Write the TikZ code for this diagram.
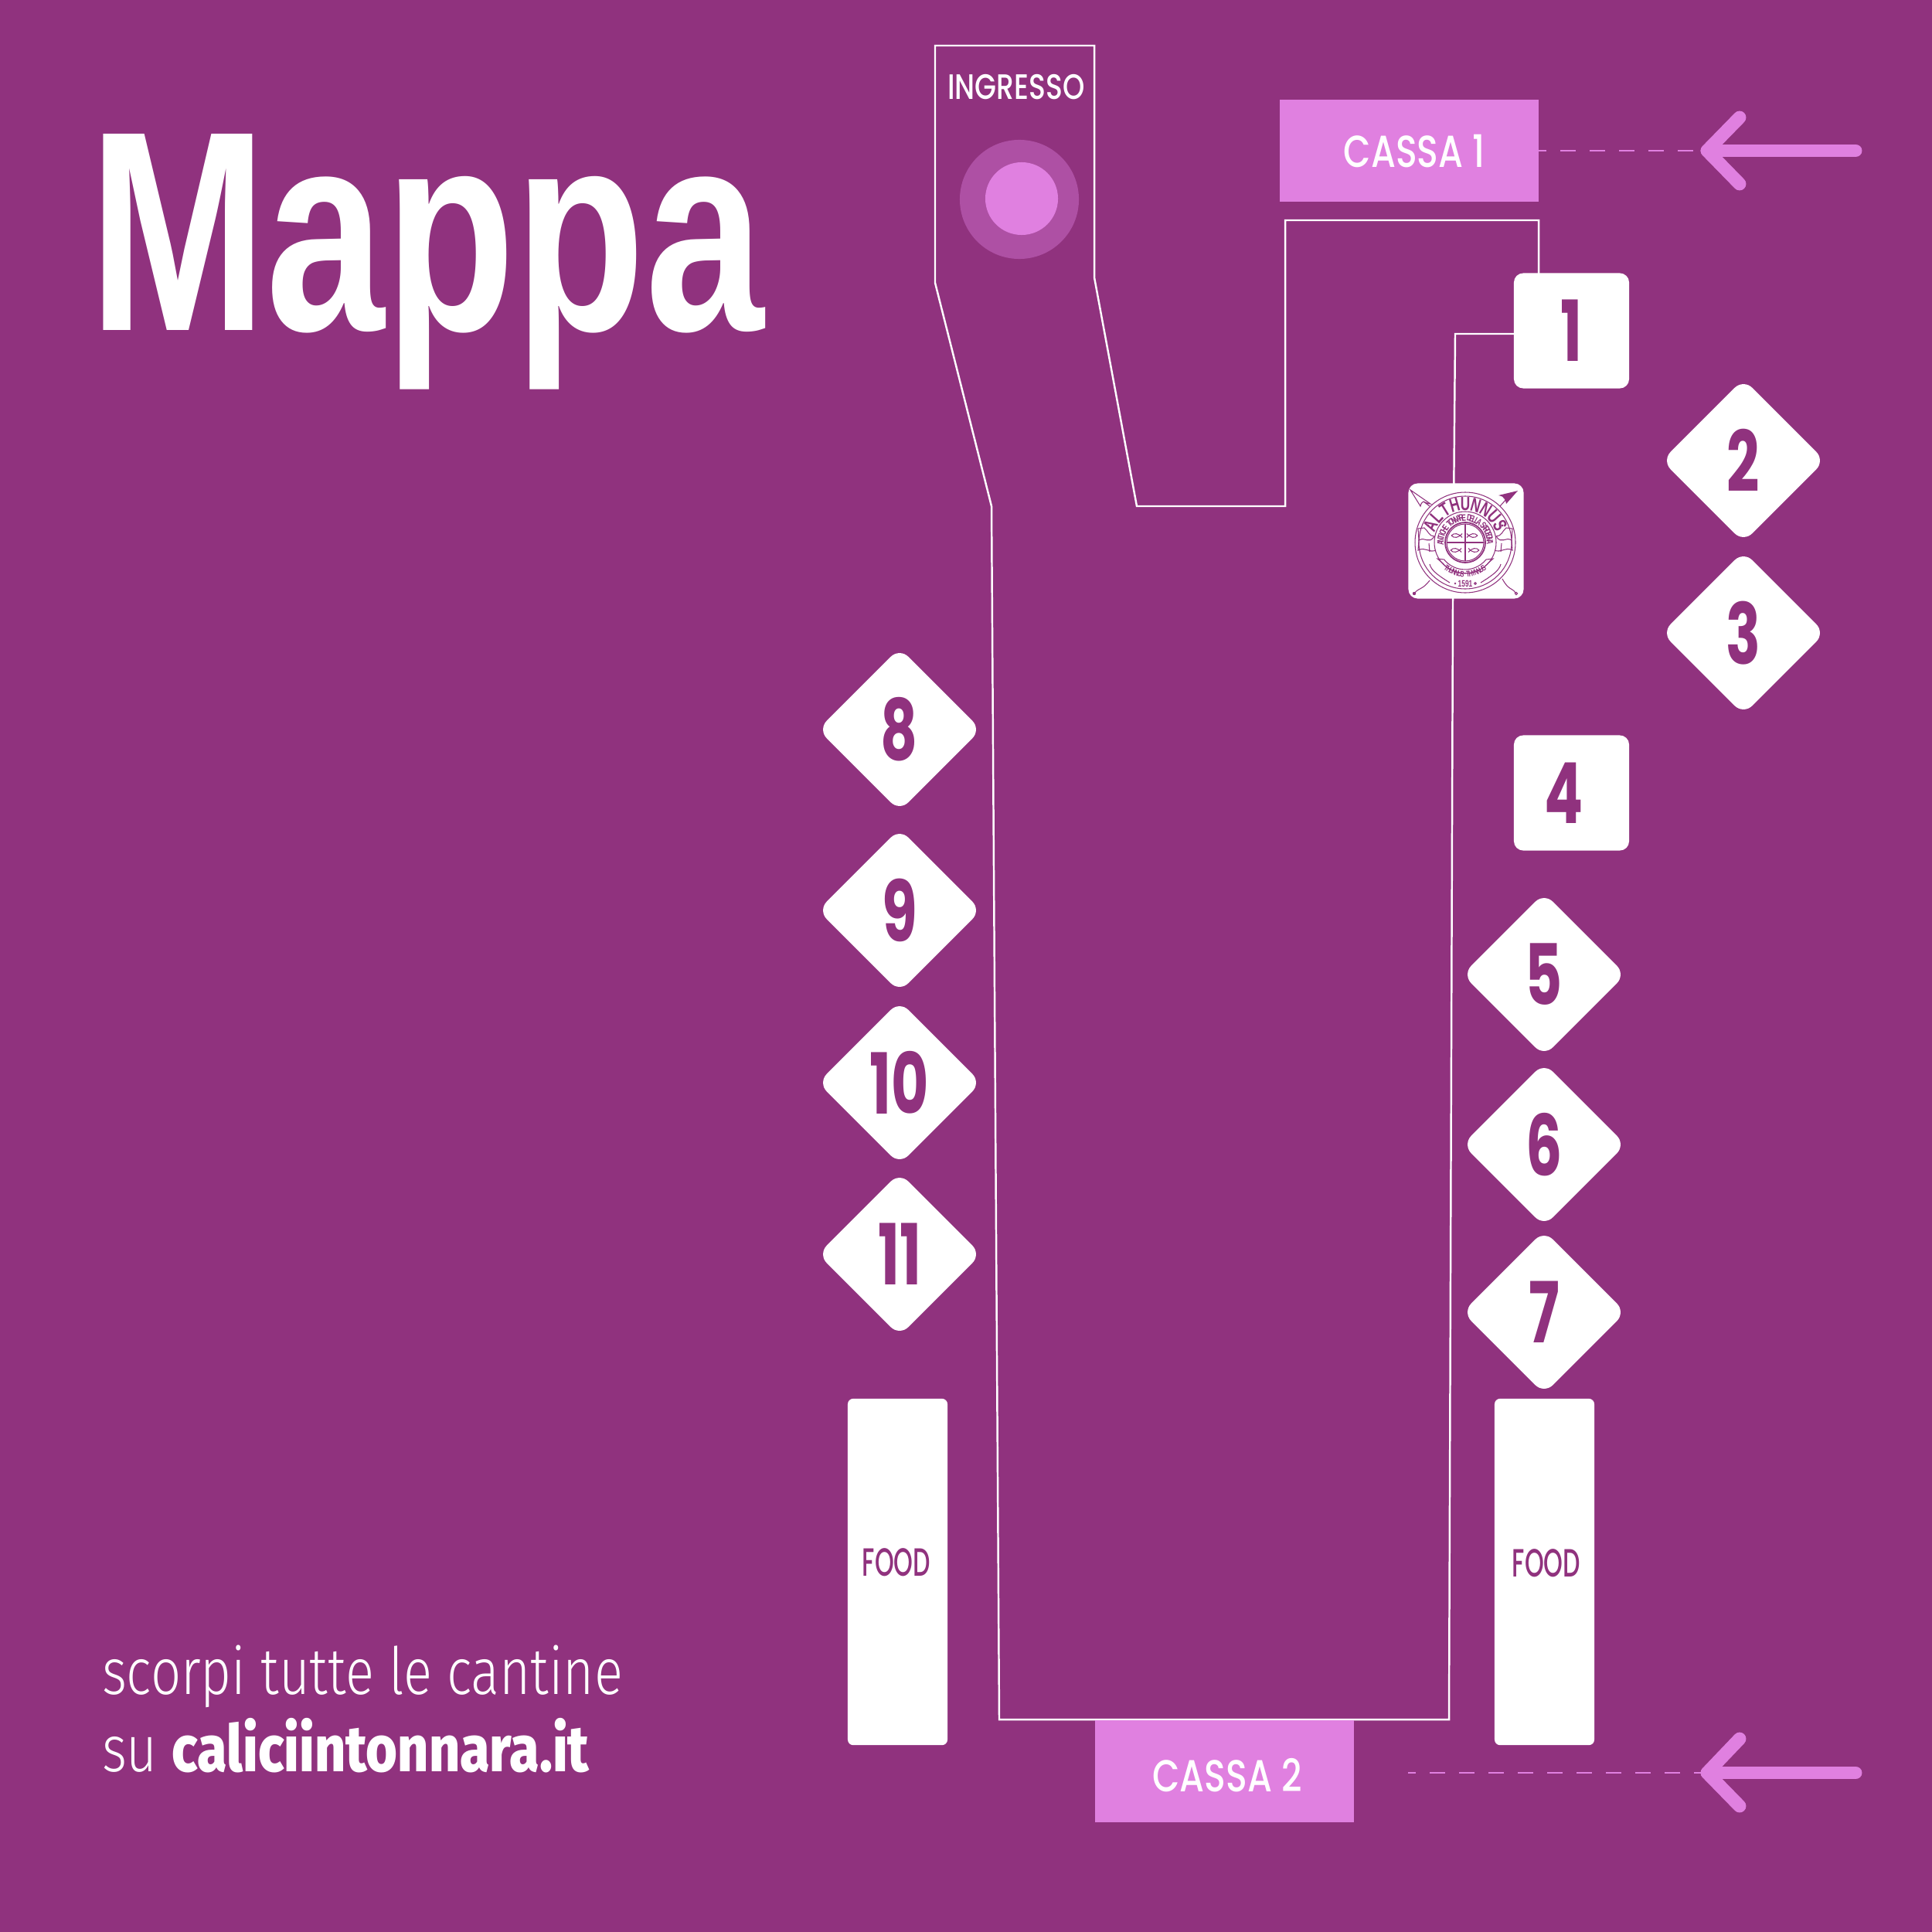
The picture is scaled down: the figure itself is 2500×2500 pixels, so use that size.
\documentclass[tikz,border=0pt]{standalone}
\usepackage{fontspec}
\usetikzlibrary{positioning,shapes.geometric}
\setmainfont{Liberation Sans}
\newfontfamily\titlefont[FakeStretch=0.747]{Liberation Sans Bold}
\newfontfamily\signfont[FakeStretch=0.79]{Poppins Medium}
\newfontfamily\foodfont[FakeStretch=0.62]{Poppins Medium}
\newfontfamily\digitfont[FakeStretch=0.68]{Poppins Bold}
\newfontfamily\lightfont[FakeStretch=0.815]{Fira Sans Light}
\newfontfamily\strongfont[FakeStretch=0.83]{Fira Sans ExtraBold}
\newfontfamily\sealfont[FakeStretch=0.7]{Liberation Sans Bold}
\definecolor{mapbg}{RGB}{144,50,126}
\definecolor{mappink}{RGB}{224,128,224}
\definecolor{mapring}{RGB}{174,80,164}
\tikzset{
  mappic/.style={x=0.01cm,y=-0.01cm,inner sep=0pt,outer sep=0pt}
  ,walkline/.style={draw=white,line width=0.7pt}
  ,standbox/.style={rectangle,fill=white,rounded corners=0.12cm,minimum size=1.49cm
    ,text=mapbg,font={\digitfont\fontsize{31}{31}\selectfont}}
  ,standdiamond/.style={diamond,aspect=1,fill=white,rounded corners=0.16cm,minimum size=2.11cm
    ,text=mapbg,font={\digitfont\fontsize{31}{31}\selectfont}}
  ,foodbox/.style={rectangle,fill=white,rounded corners=0.07cm
    ,minimum width=1.29cm,minimum height=4.48cm}
  ,foodname/.style={text=mapbg,font={\foodfont\fontsize{14.5}{14.5}\selectfont}}
  ,cassabox/.style={rectangle,fill=mappink,minimum width=3.35cm,minimum height=1.32cm}
  ,cassaname/.style={text=white,font={\signfont\fontsize{16.5}{16.5}\selectfont}}
  ,guide/.style={draw=mappink,line width=0.7pt,dash pattern=on 0.2cm off 0.18cm,dash phase=0.1cm}
  ,arrowbar/.style={draw=mappink,line width=4.8pt,line cap=round,line join=round}
  ,sealline/.style={draw=mapbg,line width=0.3pt}
  ,sealbig/.style={text=mapbg,font={\sealfont\fontsize{7}{7}\selectfont}}
  ,sealmid/.style={text=mapbg,font={\sealfont\fontsize{3.4}{3.4}\selectfont}}
  ,sealsmall/.style={text=mapbg,font={\sealfont\fontsize{3}{3}\selectfont}}
  ,fishmark/.pic={
    \draw[sealline] (-7,0) .. controls (-3,4) and (2,3) .. (7,-2.5);
    \draw[sealline] (-7,0) .. controls (-3,-4) and (2,-3) .. (7,2.5);
  }
}
\begin{document}
\begin{tikzpicture}[mappic]
  \fill[mapbg] (0,0) rectangle (2500,2500);
  \useasboundingbox (0,0) rectangle (2500,2500);

  % percorso
  \draw[walkline] (1210,59) -- (1416,59) -- (1416,359) -- (1471,655) -- (1663,655)
    -- (1663,285) -- (1991,285) -- (1991,432) -- (1883,432) -- (1880,775)
    -- (1875,2225) -- (1293,2225) -- (1283,655) -- (1210,366) -- cycle;

  \node[anchor=base west,text=white,font={\titlefont\fontsize{105}{105}\selectfont}]
    (maptitle) at (115,427) {Mappa};

  % ingresso
  \node[text=white,font={\signfont\fontsize{13}{13}\selectfont}] (ingressoname) at (1315,113) {INGRESSO};
  \node[circle,fill=mapring,minimum size=1.54cm] (ingressoring) at (1319,258) {};
  \node[circle,fill=mappink,minimum size=0.94cm] (ingressodot) at (1322,257) {};

  % casse
  \node[cassabox] (cassa1) at (1823.5,195) {};
  \node[cassaname] (cassa1name) at (1830,196) {CASSA 1};
  \node[cassabox] (cassa2) at (1584.5,2292) {};
  \node[cassaname] (cassa2name) at (1588,2297) {CASSA 2};

  % frecce
  \coordinate (arrow1tip) at (2209,195);
  \coordinate (arrow2tip) at (2209,2294);
  \coordinate (guide2end) at (1822,2294);
  \draw[guide] (cassa1.east |- arrow1tip) -- (arrow1tip);
  \draw[guide] (guide2end) -- (arrow2tip);
  \draw[arrowbar] (2251,152) -- (arrow1tip) -- (2251,238);
  \draw[arrowbar] (arrow1tip) -- (2401,195);
  \draw[arrowbar] (2251,2250) -- (arrow2tip) -- (2251,2337);
  \draw[arrowbar] (arrow2tip) -- (2401,2294);

  % cantine
  \node[standbox] (stand1) at (2033.5,428) {1};
  \node[standdiamond] (stand2) at (2256,596) {2};
  \node[standdiamond] (stand3) at (2256,819) {3};
  \node[standbox] (stand4) at (2033.5,1026) {\kern-0.2cm 4};
  \node[standdiamond] (stand5) at (1998,1261) {5};
  \node[standdiamond] (stand6) at (1998,1481) {6};
  \node[standdiamond] (stand7) at (1998,1698) {7};
  \node[standdiamond] (stand8) at (1164,944) {8};
  \node[standdiamond] (stand9) at (1164,1178) {9};
  \node[standdiamond] (stand10) at (1164,1401) {10};
  \node[standdiamond] (stand11) at (1164,1623) {11};

  % food
  \node[foodbox] (food1) at (1161.5,2034) {};
  \node[foodname] (food1name) at (1160,2022) {FOOD};
  \node[foodbox] (food2) at (1998.5,2034) {};
  \node[foodname] (food2name) at (2001,2023) {FOOD};

  % testo in basso
  \node[anchor=base west,text=white,font={\lightfont\fontsize{24}{24}\selectfont}]
    (sitotext) at (132,2192) {scorpi tutte le cantine};
  \node[anchor=base west,text=white,font={\lightfont\fontsize{24}{24}\selectfont}]
    (sitolink) at (132,2292) {su {\strongfont caliciintonnara.it}};

  % sigillo
  \node[standbox] (seal) at (1897,700) {};
  \begin{scope}[shift={(1896,702)},x=0.01cm,y=0.01cm]
    \draw[sealline] (0,0) circle[radius=65] circle[radius=60] circle[radius=40];
    \draw[sealline,line width=0.5pt] (0,0) circle[radius=26];
    \draw[sealline] (0,0) circle[radius=24];
    \draw[sealline] (-24,0) -- (24,0) (0,-24) -- (0,24);
    \pic at (-11,9) {fishmark};
    \pic[xscale=-1] at (9,9) {fishmark};
    \pic at (-12,-10) {fishmark};
    \pic[xscale=-1] at (11,-10) {fishmark};
    \foreach \ch [count=\i from 0] in {A,L,T,H,U,N,N,U,S}{
      \pgfmathsetmacro\ang{154-\i*16}
      \node[sealbig,rotate=\ang-90] (sealname\i) at (\ang:50) {\ch};
    }
    \foreach \ch [count=\i from 0] in {A,N,T,I,C,H,E,{},T,O,N,N,A,R,E,{},D,E,L,L,A,{},S,A,R,D,E,G,N,A}{
      \pgfmathsetmacro\ang{180-\i*6.2}
      \node[sealmid,rotate=\ang-90] (sealmotto\i) at (\ang:32) {\ch};
    }
    \foreach \ch [count=\i from 0] in {T,H,U,N,N,U,S,{},T,H,Y,N,N,U,S}{
      \pgfmathsetmacro\ang{234+\i*5.1}
      \node[sealsmall,rotate=\ang+90] (sealband\i) at (\ang:41) {\ch};
    }
    \node[sealmid] (sealyear) at (0,-53) {1591};
    \fill[mapbg] (-48,22) circle[radius=1.6] (48,22) circle[radius=1.6] (-13,-53) circle[radius=1.3];
    \draw[sealline] (13,-53) circle[radius=1.3];
    % nastro
    \draw[sealline] (-30,-26) arc (221:319:40) -- (36,-21) -- (27,-22) arc (-39:-141:35) -- (-36,-21) -- cycle;
    \foreach \side in {1,-1}{
      \begin{scope}[xscale=\side]
        \draw[sealline] (-53,19) .. controls (-48,15) and (-47,8) .. (-40,8)
          .. controls (-47,-3) and (-52,8) .. (-60,3) -- (-61,18) -- cycle;
        \draw[sealline] (-60,3) -- (-61,-10) .. controls (-52,-5) and (-46,-14) .. (-38,-10)
          (-47,-1) -- (-46,-12);
        \draw[sealline] (-46,-28) .. controls (-44,-36) and (-36,-42) .. (-20,-52);
      \end{scope}
    }
    % arpioni
    \draw[sealline] (-71,68) -- (-58,47) .. controls (-57,51) and (-56,52) .. (-54,53)
      .. controls (-52,52) and (-48,50) .. (-45,50) -- cycle (-54,53) -- (-46,47);
    \fill[mapbg] (68,67) -- (43,61) .. controls (47,60) and (50,59) .. (51,56)
      .. controls (52,54) and (53,52) .. (53,50) -- cycle;
    \draw[sealline] (53,56) -- (45,47);
    \fill[mapbg] (-66,-66) circle[radius=2.2];
    \draw[sealline] (-66,-66) .. controls (-60,-58) and (-56,-62) .. (-46,-49);
    \draw[sealline] (66,-66) circle[radius=1.6];
    \draw[sealline] (65,-65) .. controls (60,-58) and (56,-62) .. (48,-47);
  \end{scope}
\end{tikzpicture}
\end{document}
